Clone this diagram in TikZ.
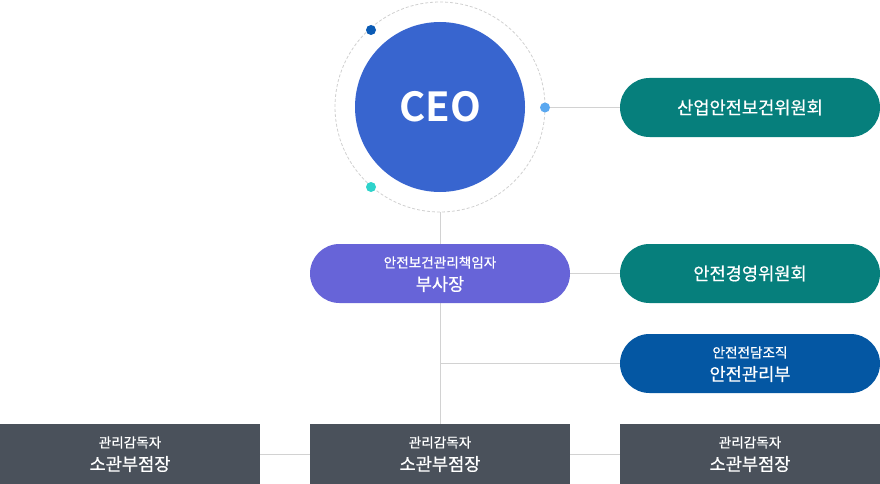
\documentclass[tikz,border=0pt]{standalone}
\usepackage{fontspec}
\newfontfamily\kr{Noto Sans CJK KR}[BoldFont=* Bold]
\newfontfamily\krm{Noto Sans CJK KR}[FakeBold=0.6]
\usetikzlibrary{positioning}
\definecolor{ceoblue}{HTML}{3865CF}
\definecolor{vpviolet}{HTML}{6764D8}
\definecolor{teal}{HTML}{067F7C}
\definecolor{navy}{HTML}{0457A3}
\definecolor{slate}{HTML}{4A515B}
\definecolor{dotdark}{HTML}{0B5BB5}
\definecolor{dotlight}{HTML}{5AA8F0}
\definecolor{dotteal}{HTML}{2ED3CB}
\definecolor{linegray}{HTML}{D2D2D2}
\definecolor{ringgray}{HTML}{D0D0D0}
\tikzset{
  pill/.style={rectangle, rounded corners=29.5pt, minimum width=260pt, minimum height=59pt, inner sep=0pt, draw=none},
  block/.style={rectangle, minimum width=260pt, minimum height=60pt, inner sep=0pt, fill=slate, draw=none},
  dot/.style={circle, minimum size=10pt, inner sep=0pt, draw=none},
  conn/.style={draw=linegray, line width=1pt},
  big/.style={text=white, font=\krm\fontsize{17.6}{20}\selectfont, inner sep=0pt},
  small/.style={text=white, font=\krm\fontsize{13.6}{15}\selectfont, inner sep=0pt},
}
\begin{document}
\begin{tikzpicture}[x=1pt,y=-1pt]
\useasboundingbox (0,0) rectangle (880,484);
% ring
\draw[ringgray, line width=0.8pt, dash pattern=on 3pt off 2pt] (440,107) circle (105);
\coordinate (ringbottom) at (440,212);
% CEO
\node[circle, fill=ceoblue, minimum size=170pt, inner sep=0pt, text=white, font=\kr\bfseries\fontsize{40}{44}\selectfont] (ceo) at (440,107) {CEO};
\node[dot, fill=dotdark] (d1) at (371,30) {};
\node[dot, fill=dotteal] (d2) at (371,187) {};
% connectors
\coordinate (branch) at (440,363.5);
\coordinate (vptop) at (440,244);
\coordinate (vpbot) at (440,303);
\coordinate (bmtop) at (440,424);
\draw[conn] (ringbottom) -- (vptop);
\draw[conn] (vpbot) -- (bmtop);
\draw[conn] (branch) -- (620,363.5);
\draw[conn] (570,273.5) -- (620,273.5);
\draw[conn] (260,454) -- (310,454);
\draw[conn] (570,454) -- (620,454);
% committees
\node[pill, fill=teal] (saneop) at (750,107.5) {};
\node[big] (saneopT) at (750,107.5) {산업안전보건위원회};
\node[pill, fill=vpviolet] (vp) at (440,273.5) {};
\node[small] (vpT1) at (440,262.5) {안전보건관리책임자};
\node[big] (vpT2) at (440,284) {부사장};
\node[pill, fill=teal] (mgmt) at (750,273.5) {};
\node[big] (mgmtT) at (750,273.5) {안전경영위원회};
\node[pill, fill=navy] (safety) at (750,363.5) {};
\node[small] (safetyT1) at (750,352.5) {안전전담조직};
\node[big] (safetyT2) at (750,374) {안전관리부};
% bottom blocks
\node[block] (bl) at (130,454) {};
\node[small] (blT1) at (130,442.5) {관리감독자};
\node[big] (blT2) at (130,464) {소관부점장};
\node[block] (bm) at (440,454) {};
\node[small] (bmT1) at (440,442.5) {관리감독자};
\node[big] (bmT2) at (440,464) {소관부점장};
\node[block] (br) at (750,454) {};
\node[small] (brT1) at (750,442.5) {관리감독자};
\node[big] (brT2) at (750,464) {소관부점장};
\node[dot, fill=dotlight] (d3) at (545,107.5) {};
\draw[conn] (d3.east) -- (saneop.west);
\end{tikzpicture}
\end{document}
